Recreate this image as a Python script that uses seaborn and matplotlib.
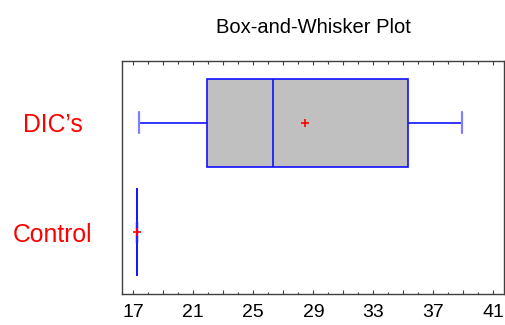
import pandas as pd
import numpy as np
import matplotlib
matplotlib.use("Agg")
import matplotlib.pyplot as plt
from matplotlib.ticker import FixedLocator, FixedFormatter, MultipleLocator
import seaborn as sns

# values (min, Q1, median, Q3, max and mean match the picture)
groups = ["DIC\u2019s", "Control"]
dic_values = [17.4, 21.0, 21.9, 25.5, 26.3, 33.5, 35.3, 36.3, 38.9]
control_values = [17.27, 17.27, 17.27]
x_ticks = [17, 21, 25, 29, 33, 37, 41]

df = pd.DataFrame({
    "value": dic_values + control_values,
    "group": [groups[0]] * len(dic_values) + [groups[1]] * len(control_values),
})

sns.set_style("white")
plt.rcParams["font.family"] = ["Liberation Sans", "DejaVu Sans"]

fig = plt.figure(figsize=(5.05, 3.25), dpi=100)
ax = fig.add_axes([0.2416, 0.0954, 0.7564, 0.7169])

sns.boxplot(
    data=df, x="value", y="group", order=groups, orient="h", ax=ax,
    whis=(0, 100), width=0.8, showfliers=False, showmeans=True,
    color="#c0c0c0", linecolor="blue", linewidth=1.2,
    boxprops=dict(facecolor="#c0c0c0", edgecolor="blue", linewidth=1.2),
    medianprops=dict(color="blue", linewidth=1.2),
    whiskerprops=dict(color="blue", linewidth=1.2),
    capprops=dict(color="#8080ff", linewidth=1.6),
    meanprops=dict(marker="+", markeredgecolor="red", markersize=6, markeredgewidth=1.2),
)

# force the plain colours and shorten the whisker caps
for p in ax.patches:
    p.set_edgecolor("#1010ff")
    p.set_facecolor("#c0c0c0")
    p.set_linewidth(1.2)
for line in ax.lines:
    xd = np.asarray(line.get_xdata(), dtype=float)
    yd = np.asarray(line.get_ydata(), dtype=float)
    if line.get_marker() == "+":
        line.set_markeredgecolor("red")
        continue
    line.set_color("#1010ff")
    if len(xd) == 2 and xd[0] == xd[1] and abs(yd[1] - yd[0]) < 0.6:
        c = yd.mean()
        line.set_ydata([c - 0.095, c + 0.095])
        line.set_color("#8080ff")
        line.set_linewidth(1.6)

ax.set_xlim(16.25, 41.7)
ax.set_ylim(1.56, -0.56)
ax.set_xlabel("")
ax.set_ylabel("")

ax.xaxis.set_major_locator(FixedLocator(list(range(17, 42, 2))))
ax.xaxis.set_major_formatter(FixedFormatter([str(v) if v in x_ticks else "" for v in range(17, 42, 2)]))
ax.xaxis.set_minor_locator(MultipleLocator(1))
ax.tick_params(axis="x", which="major", direction="in", length=3, width=0.8, color="#404040",
               top=True, bottom=True, labelsize=14, pad=7.5, labelcolor="black")
ax.tick_params(axis="x", which="minor", direction="in", length=1.8, width=0.8, color="#404040",
               top=True, bottom=True)

ax.set_yticks([0, 1])
ax.set_yticklabels(groups)
ax.tick_params(axis="y", length=0, pad=50, labelsize=17.8, labelcolor="red")
for lab in ax.get_yticklabels():
    lab.set_horizontalalignment("center")

for s in ax.spines.values():
    s.set_visible(True)
    s.set_color("#404040")
    s.set_linewidth(1)

ax.set_title("Box-and-Whisker Plot", fontsize=14.5, pad=20, color="black")

fig.savefig("out.png", dpi=100)
